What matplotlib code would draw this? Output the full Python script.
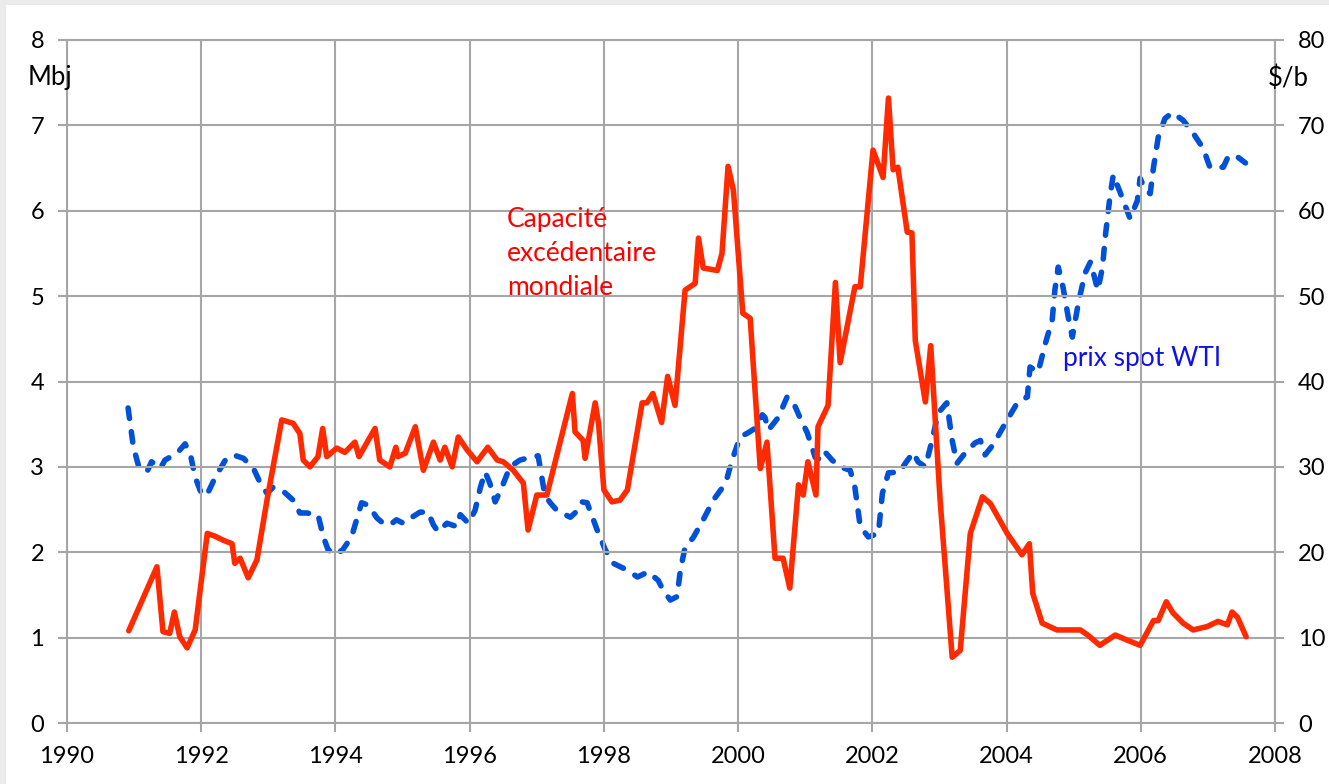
import matplotlib.pyplot as plt
from matplotlib.patches import Rectangle

# spare capacity (Mbj), left axis
cap_years = [1990.92, 1991.34, 1991.43, 1991.53, 1991.60, 1991.68, 1991.79, 1991.91,
             1992.09, 1992.20, 1992.33, 1992.46, 1992.50, 1992.58, 1992.70, 1992.83,
             1992.98, 1993.20, 1993.37, 1993.47, 1993.52, 1993.62, 1993.74, 1993.81,
             1993.87, 1994.02, 1994.14, 1994.29, 1994.35, 1994.59, 1994.66, 1994.81,
             1994.90, 1994.93, 1995.04, 1995.19, 1995.31, 1995.46, 1995.56, 1995.63,
             1995.74, 1995.83, 1995.96, 1996.11, 1996.27, 1996.41, 1996.50, 1996.65,
             1996.80, 1996.87, 1997.00, 1997.15, 1997.53, 1997.57, 1997.69, 1997.72,
             1997.87, 1997.92, 1998.00, 1998.12, 1998.24, 1998.35, 1998.57, 1998.64,
             1998.73, 1998.86, 1998.95, 1999.06, 1999.21, 1999.36, 1999.41, 1999.48,
             1999.69, 1999.76, 1999.85, 1999.93, 2000.07, 2000.18, 2000.33, 2000.43,
             2000.55, 2000.67, 2000.77, 2000.90, 2000.97, 2001.04, 2001.16, 2001.19,
             2001.34, 2001.45, 2001.52, 2001.74, 2001.82, 2002.01, 2002.16, 2002.24,
             2002.31, 2002.38, 2002.52, 2002.59, 2002.64, 2002.79, 2002.87, 2003.01,
             2003.19, 2003.31, 2003.46, 2003.64, 2003.76, 2004.01, 2004.23, 2004.34,
             2004.39, 2004.53, 2004.75, 2005.10, 2005.21, 2005.39, 2005.62, 2005.80,
             2005.99, 2006.19, 2006.26, 2006.38, 2006.48, 2006.63, 2006.78, 2006.99,
             2007.15, 2007.29, 2007.36, 2007.44, 2007.57]
cap_values = [1.08, 1.83, 1.07, 1.05, 1.30, 1.01, 0.88, 1.09,
              2.22, 2.19, 2.14, 2.10, 1.87, 1.93, 1.70, 1.91,
              2.61, 3.55, 3.51, 3.39, 3.08, 3.00, 3.12, 3.45,
              3.12, 3.22, 3.17, 3.29, 3.12, 3.45, 3.08, 3.00,
              3.23, 3.12, 3.16, 3.47, 2.96, 3.29, 3.08, 3.23,
              3.00, 3.35, 3.20, 3.06, 3.23, 3.08, 3.06, 2.96,
              2.81, 2.26, 2.67, 2.67, 3.86, 3.41, 3.31, 3.10,
              3.75, 3.51, 2.73, 2.59, 2.61, 2.73, 3.75, 3.75,
              3.86, 3.52, 4.06, 3.72, 5.07, 5.15, 5.68, 5.33,
              5.30, 5.50, 6.52, 6.24, 4.80, 4.74, 2.98, 3.29,
              1.93, 1.93, 1.58, 2.79, 2.67, 3.06, 2.67, 3.47,
              3.72, 5.16, 4.22, 5.11, 5.11, 6.71, 6.39, 7.32,
              6.48, 6.51, 5.75, 5.74, 4.48, 3.76, 4.42, 2.61,
              0.77, 0.85, 2.22, 2.65, 2.57, 2.22, 1.97, 2.10,
              1.52, 1.17, 1.09, 1.09, 1.03, 0.91, 1.03, 0.97,
              0.91, 1.20, 1.20, 1.42, 1.29, 1.17, 1.09, 1.13,
              1.19, 1.15, 1.30, 1.24, 1.01]

# WTI spot price ($/b), right axis
wti_years = [1990.91, 1990.99, 1991.07, 1991.19, 1991.26, 1991.39, 1991.46, 1991.64,
             1991.76, 1991.84, 1991.91, 1992.01, 1992.09, 1992.21, 1992.36, 1992.48,
             1992.63, 1992.78, 1992.88, 1992.98, 1993.07, 1993.20, 1993.37, 1993.47,
             1993.57, 1993.74, 1993.82, 1993.89, 1994.00, 1994.11, 1994.24, 1994.39,
             1994.49, 1994.62, 1994.71, 1994.81, 1994.91, 1995.01, 1995.14, 1995.26,
             1995.38, 1995.46, 1995.53, 1995.66, 1995.81, 1995.86, 1995.98, 1996.08,
             1996.16, 1996.23, 1996.30, 1996.38, 1996.48, 1996.60, 1996.75, 1996.90,
             1997.02, 1997.08, 1997.12, 1997.20, 1997.30, 1997.50, 1997.57, 1997.67,
             1997.75, 1997.90, 1998.02, 1998.14, 1998.35, 1998.50, 1998.66, 1998.81,
             1998.88, 1998.99, 1999.09, 1999.14, 1999.21, 1999.33, 1999.48, 1999.63,
             1999.76, 1999.84, 1999.91, 2000.03, 2000.15, 2000.25, 2000.36, 2000.40,
             2000.45, 2000.60, 2000.73, 2000.82, 2000.92, 2001.03, 2001.15, 2001.25,
             2001.30, 2001.40, 2001.52, 2001.67, 2001.74, 2001.82, 2001.94, 2002.09,
             2002.15, 2002.24, 2002.41, 2002.49, 2002.61, 2002.68, 2002.79, 2002.89,
             2002.98, 2003.11, 2003.19, 2003.26, 2003.38, 2003.53, 2003.61, 2003.68,
             2003.80, 2004.01, 2004.16, 2004.31, 2004.35, 2004.47, 2004.58, 2004.68,
             2004.72, 2004.77, 2004.84, 2004.92, 2004.98, 2005.07, 2005.17, 2005.25,
             2005.36, 2005.43, 2005.47, 2005.54, 2005.59, 2005.69, 2005.84, 2005.95,
             2005.99, 2006.07, 2006.14, 2006.19, 2006.26, 2006.36, 2006.47, 2006.63,
             2006.78, 2006.93, 2007.03, 2007.11, 2007.23, 2007.30, 2007.41, 2007.56]
wti_values = [36.9, 32.3, 30.0, 29.4, 30.6, 29.8, 30.8, 31.6,
              32.7, 31.4, 28.8, 26.7, 26.8, 28.8, 30.8, 31.4,
              31.0, 29.8, 28.1, 26.9, 27.6, 27.3, 26.1, 24.6,
              24.6, 24.4, 21.8, 20.3, 19.7, 20.3, 21.8, 25.8,
              25.5, 24.0, 23.4, 23.2, 23.8, 23.4, 24.1, 24.7,
              24.7, 23.2, 22.4, 23.4, 23.0, 24.4, 23.4, 24.9,
              27.6, 29.4, 28.1, 25.9, 27.6, 30.0, 30.8, 31.1,
              31.3, 28.5, 26.7, 25.8, 24.9, 24.1, 24.6, 25.9,
              25.8, 22.6, 20.3, 18.7, 17.9, 17.1, 17.7, 16.7,
              15.6, 14.4, 14.8, 17.9, 20.6, 21.7, 23.8, 26.1,
              27.5, 28.8, 30.8, 33.5, 34.0, 34.5, 36.1, 35.8,
              34.3, 35.8, 38.2, 37.6, 35.8, 34.0, 31.1, 30.8,
              31.7, 30.8, 30.0, 29.6, 27.6, 23.0, 21.8, 22.2,
              26.9, 29.3, 29.4, 30.4, 31.7, 30.6, 30.0, 33.1,
              36.3, 37.5, 33.1, 30.4, 31.6, 32.8, 33.1, 31.4,
              32.6, 35.5, 37.5, 38.2, 41.7, 41.1, 44.5, 47.2,
              50.7, 53.4, 51.1, 47.5, 45.2, 49.2, 52.7, 54.0,
              50.7, 53.4, 56.9, 61.6, 64.2, 62.2, 59.1, 61.2,
              63.8, 62.4, 62.0, 65.1, 68.6, 70.8, 71.5, 70.6,
              69.1, 67.3, 65.1, 65.1, 65.1, 66.3, 66.5, 65.6]

x_ticks = list(range(1990, 2009, 2))
left_ticks = list(range(0, 9))
right_ticks = list(range(0, 81, 10))

plt.rcParams['font.family'] = ['Lato', 'DejaVu Sans']
grid_col = '#a6a6a6'

fig = plt.figure(figsize=(13.29, 7.84), dpi=100, facecolor='#ebebeb')
fig.patches.append(Rectangle((6 / 1329, 0), 1, 1 - 5 / 784, transform=fig.transFigure,
                             facecolor='white', edgecolor='none', zorder=-10))

ax = fig.add_axes([67 / 1329, 1 - 723 / 784, (1275 - 67) / 1329, (723 - 40) / 784])
ax.set_facecolor('none')
ax.set_xlim(1990, 2008)
ax.set_ylim(0, 8)
ax.set_xticks(x_ticks)
ax.set_yticks(left_ticks)
ax.grid(True, color=grid_col, linewidth=1.5)
ax.set_axisbelow(True)
for s in ax.spines.values():
    s.set_color(grid_col)
    s.set_linewidth(1.5)
ax.tick_params(axis='both', direction='out', length=6.5, width=1.5, color=grid_col,
               labelsize=17, labelcolor='black', pad=10)

ax2 = ax.twinx()
ax2.set_ylim(0, 80)
ax2.set_yticks(right_ticks)
for s in ax2.spines.values():
    s.set_visible(False)
ax2.tick_params(axis='y', direction='out', length=6.5, width=1.5, color=grid_col,
                labelsize=17, labelcolor='black', pad=10)

ax2.plot(wti_years, wti_values, color='#0050d8', linewidth=4,
         linestyle=(0, (1.9, 2.4)), dash_capstyle='round', solid_joinstyle='round')
ax.plot(cap_years, cap_values, color='#ff2a00', linewidth=4,
        solid_joinstyle='round', solid_capstyle='round', zorder=3)
ax.set_zorder(ax2.get_zorder() + 1)

ax.text(1996.56, 5.5, 'Capacité\nexcédentaire\nmondiale', color='#ff0000',
        fontsize=19, linespacing=1.45, va='center', ha='left')
ax2.text(2004.84, 42.7, 'prix spot WTI', color='#1010e8', fontsize=19,
         va='center', ha='left')

fig.text(28 / 1329, 1 - 78 / 784, 'Mbj', fontsize=18.5, va='center', ha='left')
fig.text(1268 / 1329, 1 - 78 / 784, '$/b', fontsize=18.5, va='center', ha='left')

fig.savefig('out.png', dpi=100, facecolor=fig.get_facecolor())
